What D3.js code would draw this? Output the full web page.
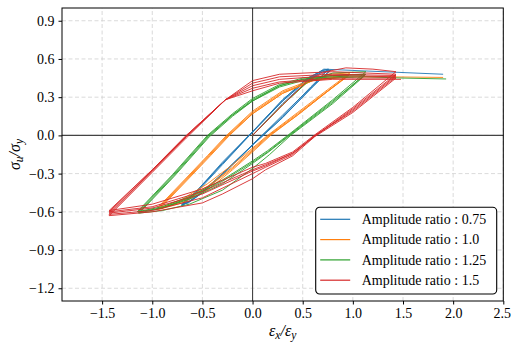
<!DOCTYPE html>
<html><head>
<meta charset="utf-8">
<script src="https://d3js.org/d3.v7.min.js"></script>
<style>
  body { margin: 0; background: #fff; }
  .grid line { stroke: #d0d0d0; stroke-dasharray: 4,2.5; stroke-width: 0.8; }
  .axis .domain { display: none; }
  .axis line { stroke: #000; }
  .loop { fill: none; stroke-width: 0.9; stroke-linejoin: round; }
</style>
</head>
<body>
<svg id="chart" width="511" height="343"></svg>
<script>

const names = ["Amplitude ratio : 0.75", "Amplitude ratio : 1.0", "Amplitude ratio : 1.25", "Amplitude ratio : 1.5"];
const colors = ["#1f77b4", "#ff7f0e", "#2ca02c", "#d62728"];
const xTicks = [-1.5, -1.0, -0.5, 0.0, 0.5, 1.0, 1.5, 2.0, 2.5];
const yTicks = [-1.2, -0.9, -0.6, -0.3, 0.0, 0.3, 0.6, 0.9];

// each series: first loading from origin, then cycles (unload to neg peak, reload to pos peak), last one has tail
const blueLoops = [
  [[0,0],[0.3,0.25],[0.55,0.43],[0.7,0.5],[0.78,0.51]],
  [[0.78,0.51],[0.6,0.39],[0.3,0.16],[0.03,-0.05],[-0.3,-0.3],[-0.5,-0.44],[-0.62,-0.51],[-0.70,-0.55],[-0.56,-0.45],[-0.3,-0.23],[-0.03,0.0],[0.3,0.27],[0.55,0.44],[0.7,0.5],[0.77,0.51]],
  [[0.77,0.51],[0.6,0.38],[0.3,0.14],[0.01,-0.07],[-0.3,-0.31],[-0.5,-0.45],[-0.63,-0.52],[-0.71,-0.55],[-0.57,-0.45],[-0.3,-0.22],[-0.01,0.02],[0.3,0.28],[0.55,0.45],[0.7,0.51],[0.76,0.52]],
  [[0.76,0.52],[0.58,0.38],[0.3,0.15],[0.04,-0.04],[-0.28,-0.29],[-0.5,-0.45],[-0.64,-0.53],[-0.70,-0.54],[-0.55,-0.43],[-0.3,-0.21],[0.0,0.03],[0.3,0.28],[0.55,0.45],[0.7,0.51],[0.75,0.52]],
  [[0.75,0.52],[0.58,0.37],[0.3,0.14],[0.02,-0.06],[-0.3,-0.3],[-0.52,-0.46],[-0.65,-0.53],[-0.71,-0.54],[-0.56,-0.44],[-0.3,-0.22],[-0.02,0.01],[0.3,0.27],[0.55,0.44],[0.71,0.52],[1.0,0.51],[1.45,0.495],[1.9,0.48]]
];

const orangeLoops = [
  [[0,0],[0.3,0.24],[0.55,0.42],[0.75,0.48],[0.97,0.49]],
  [[0.97,0.49],[0.75,0.36],[0.45,0.18],[0.15,0.0],[0,-0.1],[-0.2,-0.23],[-0.45,-0.38],[-0.7,-0.5],[-0.96,-0.58],[-0.68,-0.35],[-0.45,-0.16],[-0.26,0.0],[0,0.19],[0.3,0.35],[0.6,0.44],[0.97,0.48]],
  [[0.97,0.48],[0.75,0.35],[0.45,0.17],[0.16,0.0],[0,-0.11],[-0.2,-0.25],[-0.45,-0.4],[-0.7,-0.51],[-0.95,-0.58],[-0.67,-0.35],[-0.44,-0.16],[-0.25,0.0],[0,0.18],[0.3,0.34],[0.6,0.43],[0.96,0.47]],
  [[0.96,0.47],[0.74,0.34],[0.45,0.16],[0.17,0.0],[0,-0.12],[-0.2,-0.26],[-0.45,-0.41],[-0.7,-0.52],[-0.94,-0.58],[-0.66,-0.35],[-0.43,-0.16],[-0.24,0.0],[0,0.17],[0.3,0.33],[0.6,0.43],[0.95,0.47]],
  [[0.95,0.47],[0.74,0.34],[0.45,0.16],[0.18,0.0],[0,-0.13],[-0.2,-0.27],[-0.45,-0.43],[-0.7,-0.53],[-0.93,-0.58],[-0.65,-0.35],[-0.42,-0.16],[-0.23,0.0],[0,0.17],[0.3,0.33],[0.6,0.43],[0.95,0.46],[1.3,0.46],[1.9,0.455]]
];

const greenLoops = [
  [[0,0],[0.3,0.24],[0.55,0.42],[0.8,0.49],[1.13,0.5]],
  [[1.13,0.5],[0.8,0.28],[0.35,0.0],[0.15,-0.12],[0,-0.2],[-0.3,-0.35],[-0.63,-0.48],[-0.9,-0.56],[-1.15,-0.6],[-0.8,-0.31],[-0.45,0.0],[-0.2,0.17],[0,0.29],[0.27,0.4],[0.5,0.45],[0.8,0.47],[1.13,0.48]],
  [[1.13,0.48],[0.8,0.27],[0.36,0.0],[0.15,-0.13],[0,-0.21],[-0.3,-0.36],[-0.63,-0.49],[-0.9,-0.57],[-1.14,-0.6],[-0.79,-0.31],[-0.44,0.0],[-0.2,0.16],[0,0.28],[0.27,0.39],[0.5,0.44],[0.8,0.47],[1.12,0.48]],
  [[1.12,0.48],[0.8,0.26],[0.37,0.0],[0.16,-0.13],[0,-0.22],[-0.3,-0.38],[-0.63,-0.5],[-0.9,-0.57],[-1.14,-0.61],[-0.79,-0.32],[-0.44,-0.01],[-0.2,0.16],[0,0.27],[0.27,0.39],[0.5,0.44],[0.8,0.46],[1.12,0.47]],
  [[1.12,0.47],[0.8,0.25],[0.38,0.0],[0.17,-0.15],[0,-0.26],[-0.3,-0.43],[-0.63,-0.54],[-0.9,-0.59],[-1.13,-0.61],[-0.78,-0.32],[-0.43,-0.01],[-0.2,0.15],[0,0.27],[0.27,0.38],[0.5,0.43],[0.8,0.45],[1.12,0.46],[1.5,0.45],[1.93,0.443]]
];

const redLoops = [
  [[0,0],[0.3,0.24],[0.55,0.43],[0.73,0.5],[0.93,0.53],[1.2,0.52],[1.43,0.5]],
  [[1.43,0.5],[1.0,0.22],[0.63,0.01],[0.4,-0.13],[0.13,-0.22],[0,-0.25],[-0.5,-0.42],[-1.0,-0.54],[-1.43,-0.59],[-1.0,-0.27],[-0.66,0.0],[-0.27,0.28],[0,0.43],[0.27,0.48],[0.8,0.5],[1.43,0.48]],
  [[1.43,0.48],[1.0,0.21],[0.63,0.0],[0.4,-0.14],[0.13,-0.23],[0,-0.27],[-0.5,-0.44],[-1.0,-0.56],[-1.43,-0.6],[-1.0,-0.27],[-0.66,0.0],[-0.27,0.28],[0,0.41],[0.27,0.46],[0.8,0.48],[1.43,0.47]],
  [[1.43,0.47],[1.0,0.2],[0.63,0.0],[0.4,-0.14],[0.13,-0.24],[0,-0.28],[-0.5,-0.46],[-1.0,-0.57],[-1.43,-0.61],[-1.0,-0.28],[-0.66,-0.01],[-0.27,0.28],[0,0.39],[0.27,0.44],[0.8,0.47],[1.43,0.46]],
  [[1.43,0.46],[1.0,0.19],[0.62,0.0],[0.4,-0.15],[0.13,-0.25],[0,-0.3],[-0.5,-0.49],[-1.0,-0.59],[-1.43,-0.62],[-1.0,-0.28],[-0.66,-0.01],[-0.27,0.28],[0,0.37],[0.27,0.42],[0.8,0.45],[1.43,0.45]],
  [[1.43,0.45],[1.0,0.18],[0.62,-0.01],[0.4,-0.16],[0.13,-0.27],[0,-0.34],[-0.3,-0.46],[-0.5,-0.53],[-1.0,-0.6],[-1.43,-0.63],[-1.0,-0.29],[-0.66,-0.02],[-0.27,0.28],[0,0.35],[0.27,0.41],[0.8,0.44],[1.43,0.44],[1.48,0.44]]
];

const allLoops = [blueLoops, orangeLoops, greenLoops, redLoops];

const serif = "'Liberation Serif', 'Times New Roman', Times, 'DejaVu Serif', serif";

let svg = d3.select("#chart");
let margin = {left: 62, right: 7.7, top: 8, bottom: 42};
let width = +svg.attr("width"), height = +svg.attr("height");

const x = d3.scaleLinear().domain([-1.9, 2.5]).range([margin.left, width - margin.right]);
const y = d3.scaleLinear().domain([-1.3, 1.0]).range([height - margin.bottom, margin.top]);

const fmt = d => d3.format(".1f")(d).replace("-", "\u2212");

// grid
svg.append("g").attr("class", "grid")
  .selectAll("line.gx").data(xTicks).join("line")
  .attr("x1", d => x(d)).attr("x2", d => x(d))
  .attr("y1", y.range()[0]).attr("y2", y.range()[1]);
svg.select(".grid")
  .selectAll("line.gy").data(yTicks).join("line")
  .attr("class", "gy")
  .attr("y1", d => y(d)).attr("y2", d => y(d))
  .attr("x1", x.range()[0]).attr("x2", x.range()[1]);

// zero lines
svg.append("line").attr("x1", x(0)).attr("x2", x(0)).attr("y1", y.range()[0]).attr("y2", y.range()[1])
  .attr("stroke", "#444").attr("stroke-width", 1.1);
svg.append("line").attr("y1", y(0)).attr("y2", y(0)).attr("x1", x.range()[0]).attr("x2", x.range()[1])
  .attr("stroke", "#444").attr("stroke-width", 1.1);

// loops
let line = d3.line().x(d => x(d[0])).y(d => y(d[1]));
allLoops.forEach((loops, i) => {
  let pts = [];
  loops.forEach(c => c.forEach(p => pts.push(p)));
  svg.append("path")
    .datum(pts)
    .attr("class", "loop")
    .attr("stroke", colors[i])
    .attr("d", line);
});

// frame
svg.append("rect")
  .attr("x", x.range()[0]).attr("y", y.range()[1])
  .attr("width", x.range()[1] - x.range()[0]).attr("height", y.range()[0] - y.range()[1])
  .attr("fill", "none").attr("stroke", "#000").attr("stroke-width", 1);

// axes
let gx = svg.append("g").attr("class", "axis")
  .attr("transform", "translate(0," + y.range()[0] + ")")
  .call(d3.axisBottom(x).tickValues(xTicks).tickFormat(fmt).tickSize(3.5).tickPadding(4));
let gy = svg.append("g").attr("class", "axis")
  .attr("transform", "translate(" + x.range()[0] + ",0)")
  .call(d3.axisLeft(y).tickValues(yTicks).tickFormat(fmt).tickSize(3.5).tickPadding(4));
[gx, gy].forEach(g => g.attr("font-family", serif).attr("font-size", 14)
  .selectAll("text").style("font-family", serif).style("font-size", "14px").attr("fill", "#000"));
// last x label sits right at the window edge
gx.selectAll(".tick text").filter(d => d === 2.5).attr("dx", "-1.5");

// axis labels
let xl = svg.append("text").attr("x", (x.range()[0] + x.range()[1]) / 2).attr("y", 336)
  .attr("text-anchor", "middle").style("font-family", serif).style("font-size", "16px").style("font-style", "italic");
xl.append("tspan").text("\u03b5");
xl.append("tspan").text("x").attr("dy", 3).style("font-size", "11.5px");
xl.append("tspan").text("/").attr("dy", -3);
xl.append("tspan").text("\u03b5");
xl.append("tspan").text("y").attr("dy", 3).style("font-size", "11.5px");

let yl = svg.append("text")
  .attr("transform", "translate(20," + ((y.range()[0] + y.range()[1]) / 2) + ") rotate(-90)")
  .attr("text-anchor", "middle").style("font-family", serif).style("font-size", "16px").style("font-style", "italic");
yl.append("tspan").text("\u03c3");
yl.append("tspan").text("u").attr("dy", 3).style("font-size", "11.5px");
yl.append("tspan").text("/").attr("dy", -3);
yl.append("tspan").text("\u03c3");
yl.append("tspan").text("y").attr("dy", 3).style("font-size", "11.5px");

// legend
let lg = svg.append("g").attr("transform", "translate(315.7,207.3)");
lg.append("rect").attr("width", 181).attr("height", 86.7).attr("rx", 4)
  .attr("fill", "#fff").attr("stroke", "#000").attr("stroke-width", 1.1);
names.forEach((n, i) => {
  let yy = 12 + i * 20.3;
  lg.append("line").attr("x1", 4.5).attr("x2", 34.5).attr("y1", yy).attr("y2", yy)
    .attr("stroke", colors[i]).attr("stroke-width", 1.2);
  lg.append("text").attr("x", 46).attr("y", yy).attr("dy", "0.35em")
    .style("font-family", serif).style("font-size", "14px").text(n);
});

</script>
</body>
</html>
